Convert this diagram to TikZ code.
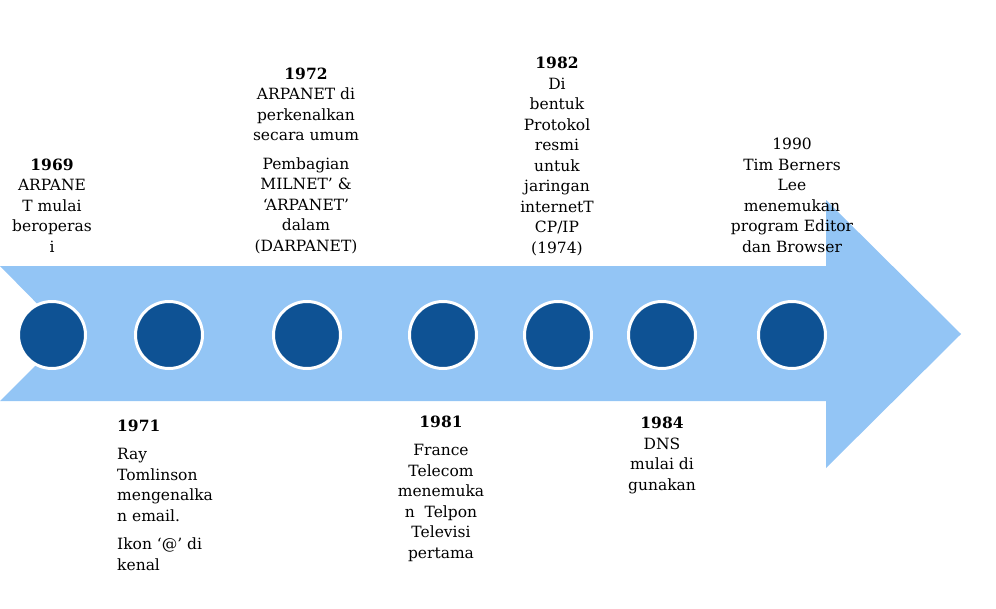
\documentclass[tikz,border=0pt]{standalone}
\usepackage{fontspec}
\setmainfont{DejaVu Serif}
\usetikzlibrary{positioning}
\definecolor{SkyBand}{HTML}{93C5F5}
\definecolor{DeepBlue}{HTML}{0E5294}
\definecolor{Ink}{HTML}{000000}
\tikzset{
  milestone/.style={
    circle, fill=DeepBlue, draw=white, line width=3pt,
    minimum size=67pt, inner sep=0pt
  },
  event/.style={
    align=center, inner sep=0pt, anchor=base, text=Ink,
    font=\fontsize{15.5}{20.5}\selectfont
  },
  eventleft/.style={event, align=left, anchor=base west}
}
\begin{document}
\begin{tikzpicture}[x=1pt,y=-1pt]
    \useasboundingbox (0,0) rectangle (996,608);
    % the band
    \fill[SkyBand] (0,266) -- (826,266) -- (826,200) -- (961,334)
      -- (826,468) -- (826,401) -- (0,401) -- (67,334) -- cycle;
    \node[milestone] (m69) at (52,335) {};
    \node[milestone] (m71) at (169,335) {};
    \node[milestone] (m72) at (307,335) {};
    \node[milestone] (m81) at (443,335) {};
    \node[milestone] (m82) at (558,335) {};
    \node[milestone] (m84) at (662,335) {};
    \node[milestone] (m90) at (792,335) {};
    % above the band (anchored on the last line)
    \node[event] (t69) at (52,252) {\textbf{1969}\\ARPANE\\T mulai\\beroperas\\i};
    \node[event] (t72) at (306,251) {\textbf{1972}\\ARPANET di\\perkenalkan\\secara umum\\[8pt]Pembagian\\MILNET’ \&\\‘ARPANET’\\dalam\\(DARPANET)};
    \node[event] (t82) at (557,253) {\textbf{1982}\\Di\\bentuk\\Protokol\\resmi\\untuk\\jaringan\\internetT\\CP/IP\\(1974)};
    \node[event] (t90) at (792,252) {1990\\Tim Berners\\Lee\\menemukan\\program Editor\\dan Browser};
    % below the band
    \node[eventleft] (t71) at (117,570) {\textbf{1971}\\[8pt]Ray\\Tomlinson\\mengenalka\\n email.\\[8pt]Ikon ‘@’ di\\kenal};
    \node[event] (t81) at (441,558) {\textbf{1981}\\[8pt]France\\Telecom\\menemuka\\n\ \ Telpon\\Televisi\\pertama};
    \node[event] (t84) at (662,490) {\textbf{1984}\\DNS\\mulai di\\gunakan};
\end{tikzpicture}
\end{document}
